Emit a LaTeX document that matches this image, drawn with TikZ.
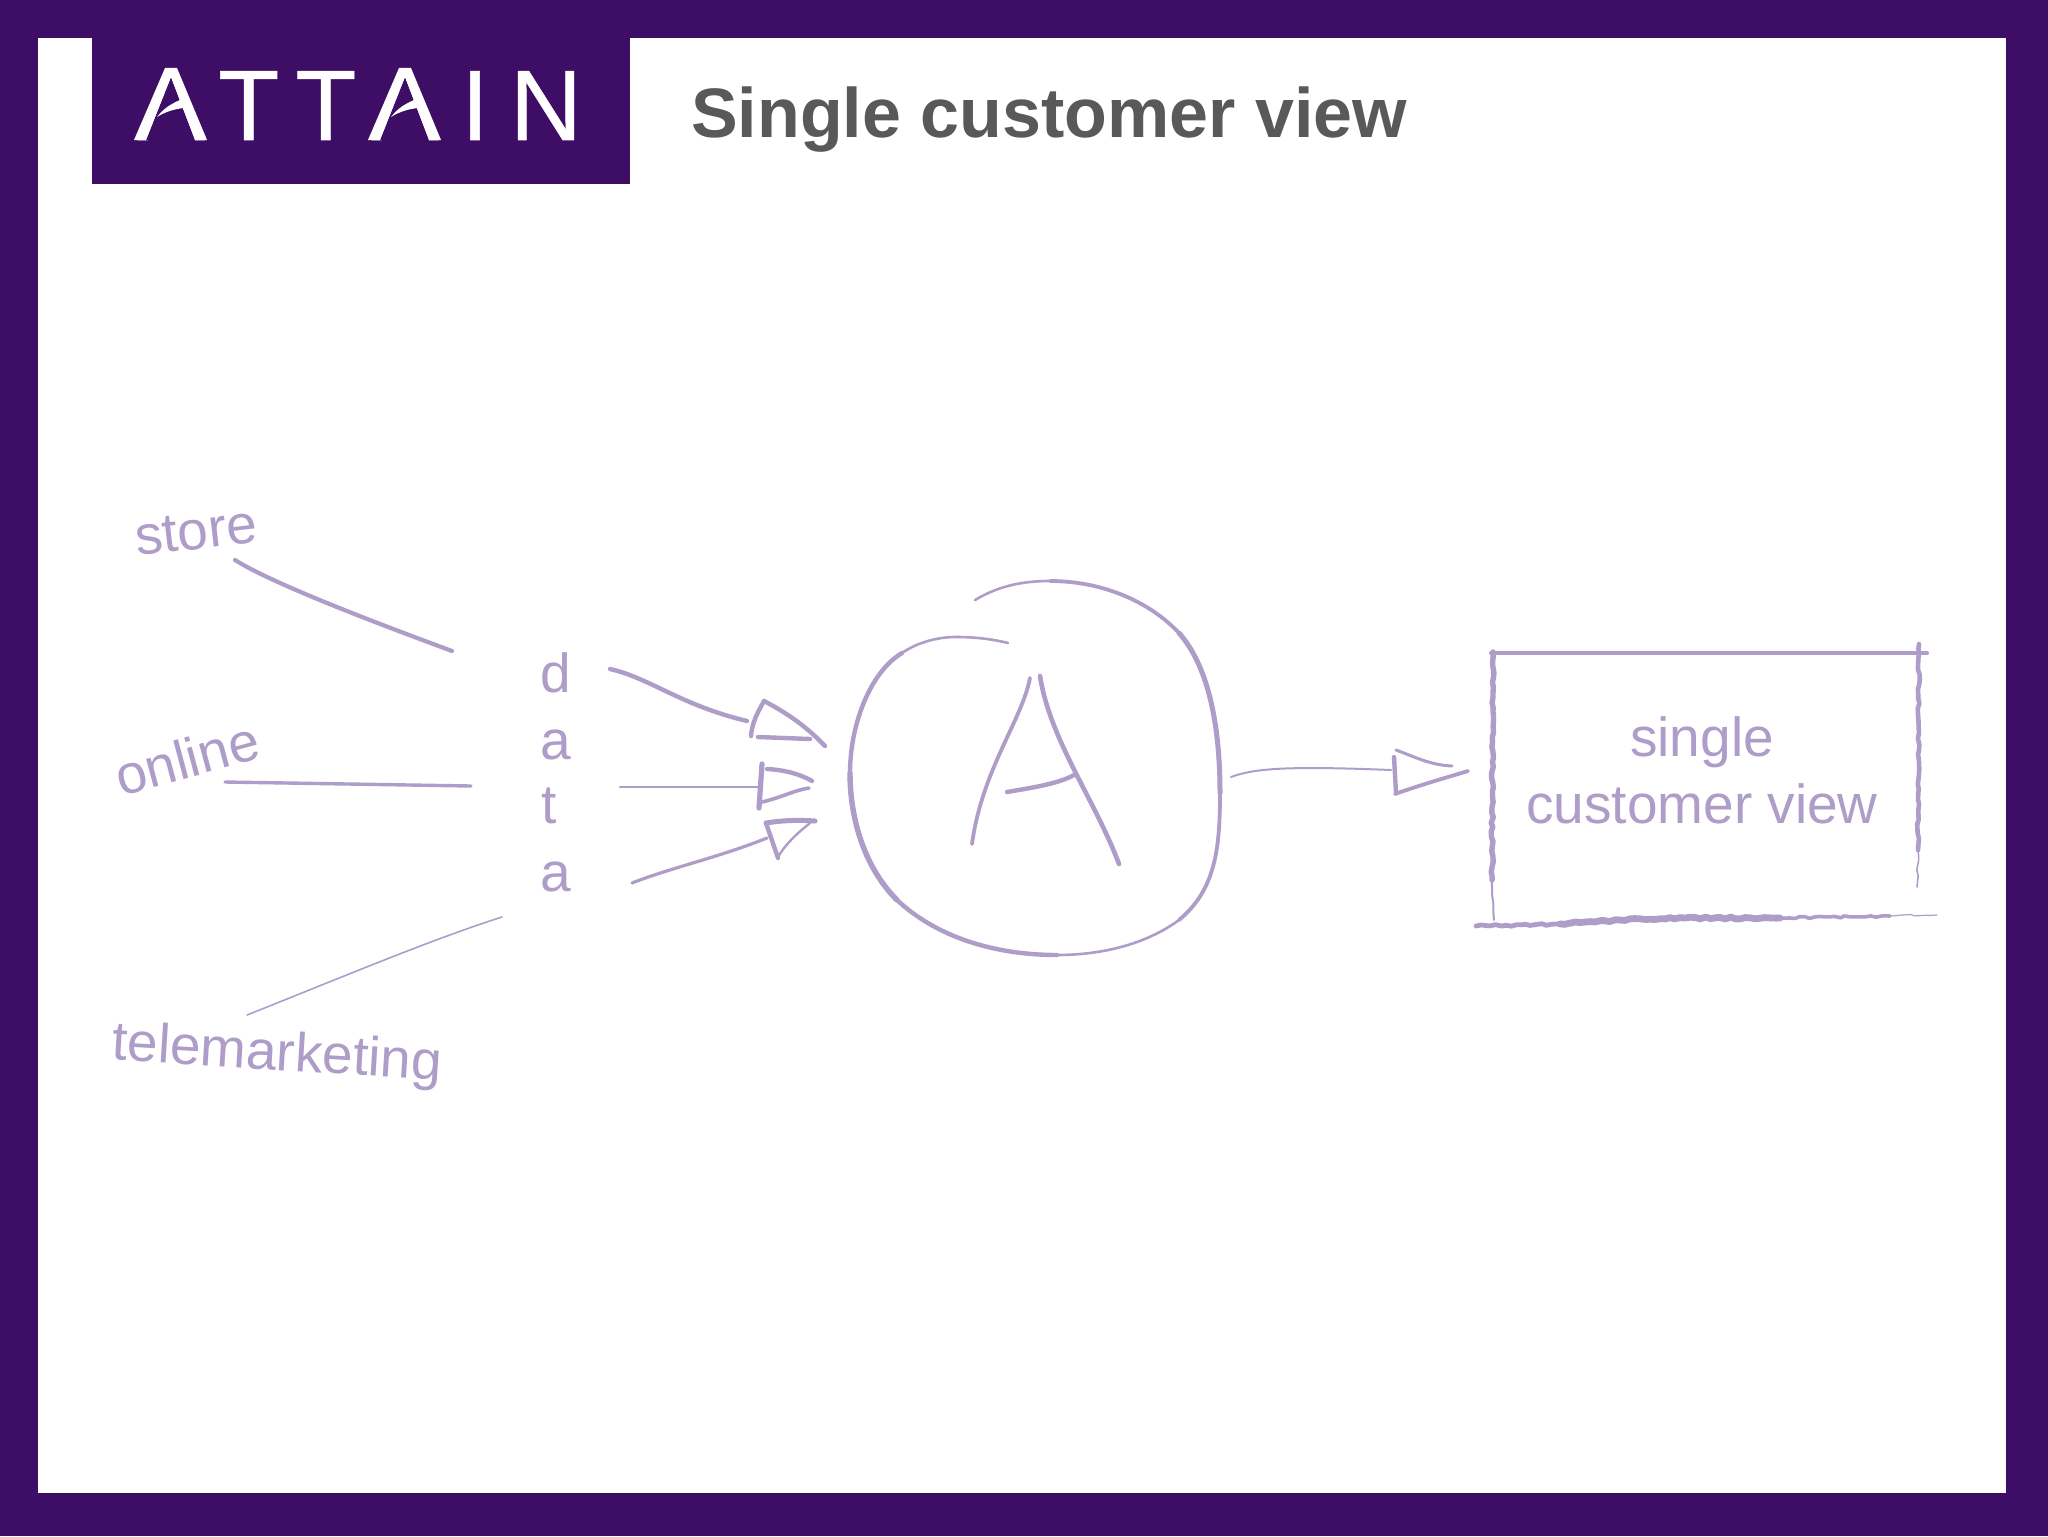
\documentclass[tikz,border=0pt]{standalone}
\usepackage{fontspec}
\setmainfont{Liberation Sans}
\newfontfamily\logofont[FakeBold=0.5]{Liberation Sans}
\usetikzlibrary{decorations.pathmorphing}
\definecolor{frame}{HTML}{3E0E66}
\definecolor{titlegray}{HTML}{58595B}
\definecolor{lilac}{HTML}{AE9DC9}
\tikzset{
  pen/.style={draw=lilac,line cap=round,line join=round},
  rough/.style={pen,decorate,decoration={random steps,segment length=2.5pt,amplitude=.5pt}},
  hand/.style={text=lilac,font=\fontsize{27.5}{33.5}\selectfont,inner sep=0pt,anchor=base},
  swoosh/.style={fill=white,draw=none}
}
\pgfmathsetseed{7}
\begin{document}
\begin{tikzpicture}[x=0.5pt,y=-0.5pt]
\useasboundingbox (0,0) rectangle (2048,1536);
\fill[frame] (0,0) rectangle (2048,1536);
\fill[white] (38,38) rectangle (2006,1493);
\fill[frame] (92,38) rectangle (630,184);
% logo
\node (logo) [anchor=base west,inner sep=0pt,text=white,font=\logofont\fontsize{50}{50}\selectfont] at (137.5,140)
  {A\kern6.8pt T\kern8pt T\kern7.7pt A\kern11.3pt I\kern10.5pt N};
\foreach \ox in {134,368}{
  \begin{scope}[shift={(\ox,0)}]
    \fill[frame] (37,77) -- (12,140) -- (61,140) -- cycle;
    \fill[swoosh] (0,140) -- (31,68) -- (43,68) -- (73,140) -- (61,140) -- (37,77) -- (12,140) -- cycle;
    \fill[swoosh] (23,117) .. controls (30,108) and (37,104) .. (46,100) -- (50,108) .. controls (40,109) and (31,112) .. (23,117) -- cycle;
  \end{scope}
}
\node (title) [anchor=base,inner sep=0pt,text=titlegray,font=\fontsize{35}{38}\bfseries\selectfont] at (1049,137) {Single customer view};
% labels
\node (store) [hand,rotate=6.5] at (198,549) {store};
\node (online) [hand,rotate=15] at (192,777) {online};
\node (tele) [hand,rotate=-3.5] at (276,1070) {telemarketing};
\node (d1) [hand] at (556,692) {d};
\node (a1) [hand] at (556,759) {a};
\node (t1) [hand] at (549,823) {t};
\node (a2) [hand] at (556,891) {a};
\node (scv) [hand,align=center,anchor=center] at (1702,770) {single\\customer view};
% connector ends
\coordinate (s0) at (235,560); \coordinate (s1) at (452,651);
\coordinate (o0) at (225,782); \coordinate (o1) at (471,786);
\coordinate (t0) at (247,1015); \coordinate (t3) at (502,917);
\coordinate (d0) at (610,669); \coordinate (dh) at (747,721);
\coordinate (m0) at (620,787); \coordinate (mh) at (759,787);
\coordinate (b0) at (632,883); \coordinate (bh) at (767,838);
\coordinate (q0) at (1231,777); \coordinate (qh) at (1391,770);
% left connectors
\draw[pen,line width=2.1pt] (s0) .. controls (270,582) and (360,617) .. (s1);
\draw[pen,line width=1.7pt] (o0) -- (o1);
\draw[pen,line width=.8pt] (t0) .. controls (340,978) and (430,940) .. (t3);
% data arrows
\draw[pen,line width=2.2pt] (d0) .. controls (650,678) and (680,705) .. (dh);
\draw[pen,line width=1.3pt] (m0) -- (mh);
\draw[pen,line width=1.6pt] (b0) .. controls (670,868) and (720,857) .. (bh);
% heads
\draw[pen,line width=2.2pt] (764,701) .. controls (758,712) and (752,722) .. (751,736);
\draw[pen,line width=2.2pt] (764,701) .. controls (785,712) and (805,725) .. (825,746);
\draw[pen,line width=2.2pt] (758,737) -- (810,739);
\draw[pen,line width=2.6pt] (762,764) -- (759,808);
\draw[pen,line width=2.2pt] (767,769) .. controls (785,770) and (800,774) .. (812,781);
\draw[pen,line width=1.8pt] (762,802) .. controls (780,798) and (795,790) .. (809,788);
\draw[pen,line width=2.5pt] (766,823) .. controls (785,820) and (800,820) .. (815,821);
\draw[pen,line width=2.2pt] (766,823) -- (778,858);
\draw[pen,line width=1.2pt] (778,857) .. controls (785,845) and (795,835) .. (810,823);
% blob
\draw[pen,line width=1.3pt] (975,600) .. controls (1000,585) and (1025,581) .. (1050,581)
  .. controls (1100,581) and (1148,600) .. (1179,633)
  .. controls (1210,668) and (1220,730) .. (1220,793)
  .. controls (1220,850) and (1215,890) .. (1179,920)
  .. controls (1145,945) and (1100,955) .. (1057,955)
  .. controls (1000,955) and (940,940) .. (897,900)
  .. controls (865,868) and (850,820) .. (850,773)
  .. controls (850,725) and (870,672) .. (902,653)
  .. controls (918,642) and (938,637) .. (956,637)
  .. controls (975,637) and (992,639) .. (1008,643);
\draw[pen,line width=1.9pt] (1050,581) .. controls (1100,581) and (1148,600) .. (1179,633)
  .. controls (1210,668) and (1220,730) .. (1220,793)
  .. controls (1220,850) and (1215,890) .. (1179,920);
\draw[pen,line width=2.5pt] (1179,633) .. controls (1210,668) and (1220,730) .. (1220,793);
\draw[pen,line width=2.2pt] (1057,955) .. controls (1000,955) and (940,940) .. (897,900)
  .. controls (865,868) and (850,820) .. (850,773)
  .. controls (850,725) and (870,672) .. (902,653);
\draw[pen,line width=2.7pt] (897,900) .. controls (865,868) and (850,820) .. (850,773);
% A
\draw[pen,line width=1.9pt] (1030,678) .. controls (1022,720) and (982,770) .. (972,844);
\draw[pen,line width=2.3pt] (1040,676) .. controls (1050,740) and (1095,800) .. (1119,864);
\draw[pen,line width=2.2pt] (1007,792) .. controls (1030,788) and (1058,784) .. (1074,775);
% output arrow
\draw[pen,line width=1pt] (q0) .. controls (1255,768) and (1290,766) .. (qh);
\draw[pen,line width=2.2pt] (1394,757) -- (1396,793);
\draw[pen,line width=1.5pt] (1396,750) .. controls (1415,757) and (1430,765) .. (1452,766);
\draw[pen,line width=1.9pt] (1395,794) .. controls (1420,785) and (1445,778) .. (1468,771);
% box
\draw[pen,line width=2pt] (1491,653) -- (1927,653);
\draw[rough,line width=2.7pt] (1493,652) -- (1492,880);
\draw[rough,line width=1pt] (1492,880) -- (1494,920);
\draw[rough,line width=2.3pt] (1919,644) -- (1918,850);
\draw[rough,line width=.8pt] (1918,850) -- (1917,887);
\draw[rough,line width=2.4pt] (1476,926) -- (1560,924);
\draw[rough,line width=3.4pt] (1560,924) -- (1620,920) -- (1685,918) -- (1780,918);
\draw[rough,line width=1.8pt] (1780,918) -- (1890,916);
\draw[rough,line width=.6pt] (1890,916) -- (1937,915);
\end{tikzpicture}
\end{document}
